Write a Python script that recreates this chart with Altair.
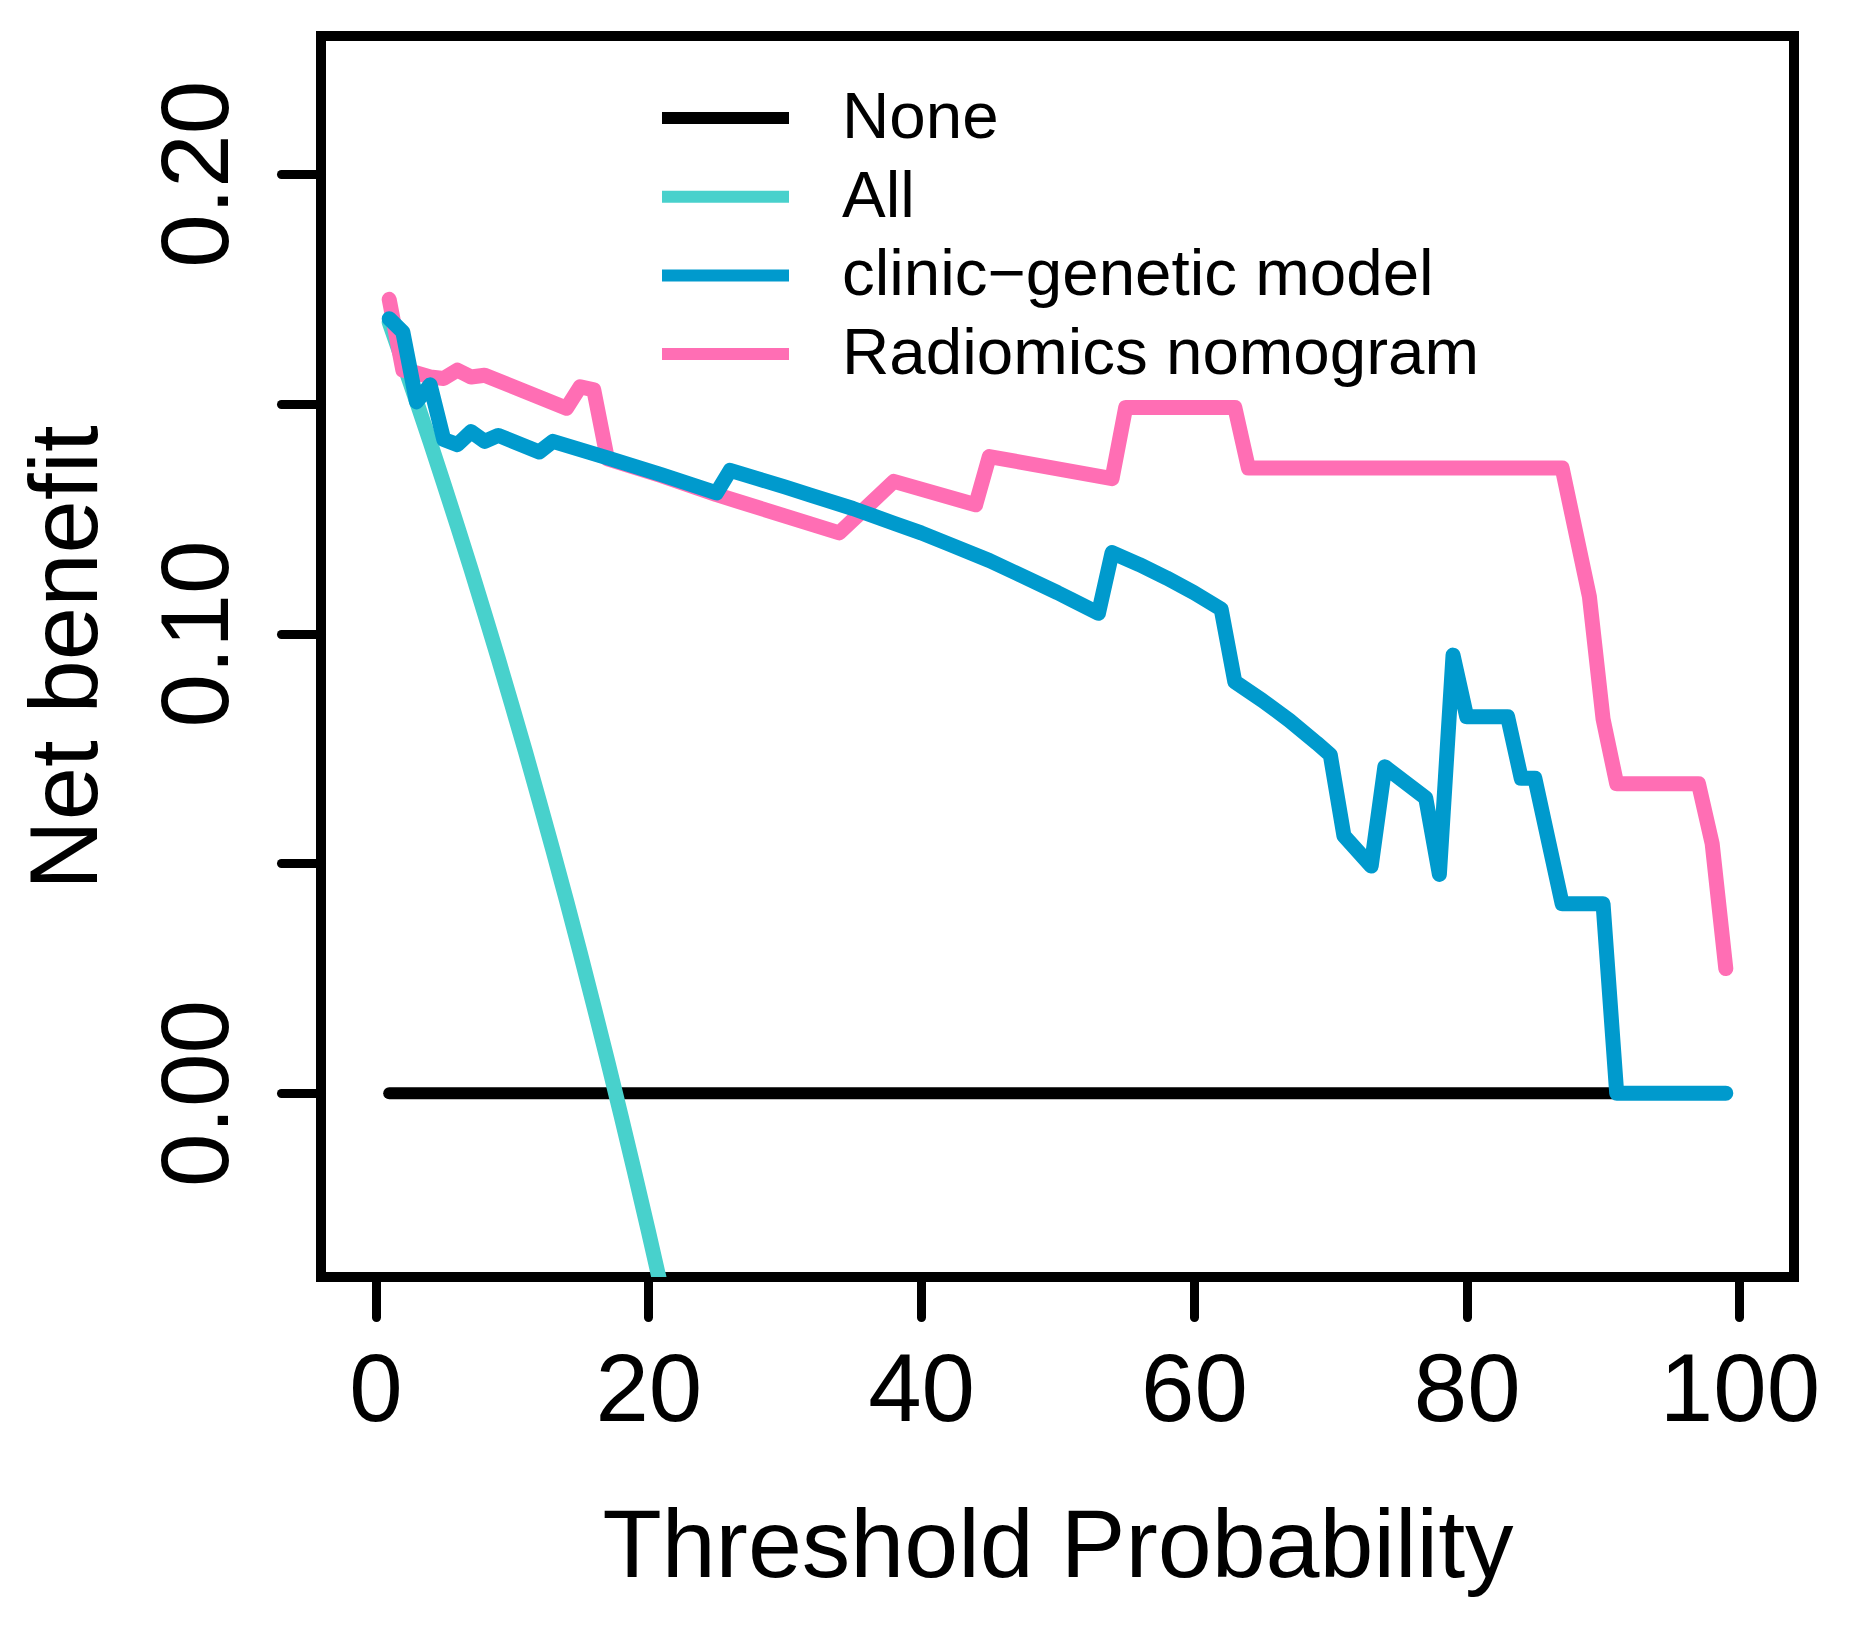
import altair as alt
import pandas as pd

# ---- data ----
models = ["None", "All", "clinic\u2212genetic model", "Radiomics nomogram"]
colors = ["#000000", "#48D1CC", "#009ACD", "#FF6EB4"]

none_x = [1, 99]
none_y = [0.0, 0.0]

all_x = [1, 2, 3, 4, 5, 6, 7, 8, 9, 10, 11, 12, 13, 14, 15, 16, 17, 18, 19, 20, 21]
all_y = [0.1677, 0.1592, 0.1505, 0.1417, 0.1326, 0.1234, 0.1140, 0.1043, 0.0945,
         0.0844, 0.0742, 0.0636, 0.0529, 0.0419, 0.0306, 0.0190, 0.0072, -0.0049,
         -0.0173, -0.0300, -0.0430]

clinic_x = [1, 2, 3, 4, 5, 6, 7, 8, 9, 12, 13, 17, 21, 25, 26, 28, 30, 32, 35, 38,
            40, 42, 45, 47, 50, 51, 53, 54, 56, 58, 60, 62, 63, 65, 67, 69, 70, 71,
            73, 74, 77, 78, 79, 80, 83, 84, 85, 87, 90, 91, 99]
clinic_y = [0.1685, 0.1656, 0.1504, 0.1541, 0.1422, 0.1411, 0.1439, 0.1418, 0.1431,
            0.1395, 0.1418, 0.1382, 0.1345, 0.1306, 0.1355, 0.1337, 0.1319, 0.1300,
            0.1272, 0.1240, 0.1219, 0.1195, 0.1159, 0.1131, 0.1089, 0.1074, 0.1044,
            0.1176, 0.1150, 0.1121, 0.1089, 0.1053, 0.0895, 0.0855, 0.0811, 0.0762,
            0.0736, 0.0560, 0.0494, 0.0710, 0.0642, 0.0476, 0.0953, 0.0819, 0.0819,
            0.0685, 0.0685, 0.0412, 0.0412, 0.0, 0.0]

radiomics_x = [1, 2, 3, 4, 5, 6, 7, 8, 14, 15, 16, 17, 21, 25, 34, 38, 44, 45, 54,
               55, 63, 64, 87, 89, 90, 91, 97, 98, 99]
radiomics_y = [0.1727, 0.1573, 0.1567, 0.1558, 0.1555, 0.1573, 0.1558, 0.1562, 0.1490,
               0.1537, 0.1530, 0.1380, 0.1343, 0.1302, 0.1219, 0.1331, 0.1280, 0.1385,
               0.1337, 0.1492, 0.1492, 0.1360, 0.1360, 0.1080, 0.0814, 0.0673, 0.0673,
               0.0543, 0.0271]

x_ticks = [0, 20, 40, 60, 80, 100]
y_ticks = [0.0, 0.05, 0.10, 0.15, 0.20]

series = [
    (models[0], none_x, none_y),
    (models[1], all_x, all_y),
    (models[2], clinic_x, clinic_y),
    (models[3], radiomics_x, radiomics_y),
]
rows = []
for name, xs, ys in series:
    for xv, yv in zip(xs, ys):
        rows.append({"model": name, "threshold": xv, "net_benefit": yv})
df = pd.DataFrame(rows)

FONT = "Liberation Sans"

x_enc = alt.X(
    "threshold:Q",
    scale=alt.Scale(domain=[-4, 104], nice=False, zero=False),
    axis=alt.Axis(
        values=x_ticks, format="d", title="Threshold Probability",
        domain=False, grid=False,
        tickSize=40, tickWidth=9, tickColor="black", tickCap="round",
        labelFont=FONT, labelFontSize=96, labelColor="black", labelPadding=27,
        labelFlush=False, labelOverlap=False, labelBaseline="top", labelAlign="center",
        titleFont=FONT, titleFontSize=97, titleFontWeight="normal", titleColor="black",
        titleY=299, titleBaseline="alphabetic", titleLimit=2000,
    ),
)
y_enc = alt.Y(
    "net_benefit:Q",
    scale=alt.Scale(domain=[-0.04, 0.23], nice=False, zero=False),
    axis=alt.Axis(
        values=y_ticks,
        labelExpr="(abs(datum.value-0.05)<1e-9 || abs(datum.value-0.15)<1e-9) ? '' : format(datum.value, '.2f')",
        title="Net benefit", domain=False, grid=False,
        tickSize=40, tickWidth=9, tickColor="black", tickCap="round",
        labelFont=FONT, labelFontSize=96, labelColor="black", labelPadding=54,
        labelAngle=270, labelAlign="center", labelBaseline="alphabetic",
        labelLimit=500, labelOverlap=False, labelFlush=False,
        titleFont=FONT, titleFontSize=96, titleFontWeight="normal", titleColor="black",
        titleAngle=270, titleX=-225, titleY=621, titleAlign="center",
        titleBaseline="alphabetic", titleLimit=2000,
    ),
)
color_enc = alt.Color(
    "model:N",
    scale=alt.Scale(domain=models, range=colors),
    legend=alt.Legend(
        title=None, orient="none", legendX=335, legendY=47,
        symbolType="stroke", symbolSize=16129, symbolStrokeWidth=12,
        labelFont=FONT, labelFontSize=65.5, labelColor="black", labelOffset=47,
        labelLimit=1000, clipHeight=70, rowPadding=8.7, padding=0,
    ),
)


def layer(name, width):
    return (
        alt.Chart(df)
        .transform_filter(alt.datum.model == name)
        .mark_line(clip=True, strokeWidth=width, strokeCap="round", strokeJoin="round")
        .encode(x=x_enc, y=y_enc, color=color_enc)
    )


chart = (
    alt.layer(
        layer(models[0], 12),
        layer(models[1], 15),
        layer(models[3], 15),
        layer(models[2], 15),
    )
    .properties(
        width=1473,
        height=1241,
        padding={"left": 313, "top": 28, "right": 40, "bottom": 320},
        autosize=alt.AutoSizeParams(type="none"),
        background="white",
    )
    .configure_view(stroke="black", strokeWidth=10)
)

chart.save("out.html", embed_options={"renderer": "svg", "actions": False})
